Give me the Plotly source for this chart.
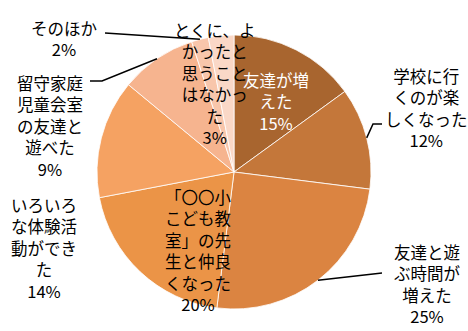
import math
import plotly.graph_objects as go

# Survey answers, clockwise from 12 o'clock
categories = [
    "友達が増えた",
    "学校に行くのが楽しくなった",
    "友達と遊ぶ時間が増えた",
    "「〇〇小こども教室」の先生と仲良くなった",
    "いろいろな体験活動ができた",
    "留守家庭児童会室の友達と遊べた",
    "そのほか",
    "とくに、よかったと思うことはなかった",
]
values = [15, 12, 25, 20, 14, 9, 2, 3]
label_lines = [
    ["友達が増", "えた"],
    ["学校に行", "くのが楽", "しくなった"],
    ["友達と遊", "ぶ時間が", "増えた"],
    ["「〇〇小", "こども教", "室」の先", "生と仲良", "くなった"],
    ["いろいろ", "な体験活", "動ができ", "た"],
    ["留守家庭", "児童会室", "の友達と", "遊べた"],
    ["そのほか"],
    ["とくに、よ", "かったと", "思うこと", "はなかっ", "た"],
]
colors = ["#A8652F", "#C4773A", "#DB8441", "#EB9447",
          "#F5A262", "#F6B48F", "#F8C6AB", "#FAD8C7"]

W, H = 468, 331
CX, CY, R = 234, 172, 137  # pie centre and radius in pixels

# label block centres (pixels), text colour, leader line start (pixels) or None
label_pos = [
    (276, 101, "white", None),
    (426, 108, "black", [(382, 124), (373, 124)]),
    (427, 284, "black", [(382, 273)]),
    (198, 250, "black", None),
    (44, 248, "black", None),
    (50, 126, "black", [(90, 81), (102, 81)]),
    (64, 38, "black", [(105, 33)]),
    (215, 83, "black", None),
]


def px(x):
    return x / W


def py(y):
    return 1 - y / H


fig = go.Figure(go.Pie(
    labels=categories,
    values=values,
    sort=False,
    direction="clockwise",
    rotation=0,
    marker=dict(colors=colors, line=dict(color="#FFFFFF", width=0.8)),
    textinfo="none",
    hoverinfo="none",
    showlegend=False,
    domain=dict(x=[0, 1], y=[py(CY + R), py(CY - R)]),
))

total = sum(values)
annotations = []
shapes = []
cum = 0
for i, v in enumerate(values):
    mid = (cum + v / 2) / total * 2 * math.pi
    cum += v
    lx, ly, col, leader = label_pos[i]
    text = "<br>".join(label_lines[i] + [f"{v}%"])
    annotations.append(dict(
        x=px(lx), y=py(ly), xref="paper", yref="paper",
        text=text, showarrow=False, xanchor="center", yanchor="middle",
        align="center",
        font=dict(family="Noto Sans CJK JP", size=16.5, color=col),
    ))
    if leader:
        ex = CX + R * math.sin(mid)
        ey = CY - R * math.cos(mid)
        pts = leader + [(ex, ey)]
        path = "M " + " L ".join(f"{px(a):.5f},{py(b):.5f}" for a, b in pts)
        shapes.append(dict(type="path", xref="paper", yref="paper",
                           path=path, line=dict(color="black", width=1.5)))

fig.update_layout(
    width=W, height=H,
    margin=dict(l=0, r=0, t=0, b=0),
    paper_bgcolor="white",
    plot_bgcolor="white",
    annotations=annotations,
    shapes=shapes,
)

fig.write_html("out.html")
